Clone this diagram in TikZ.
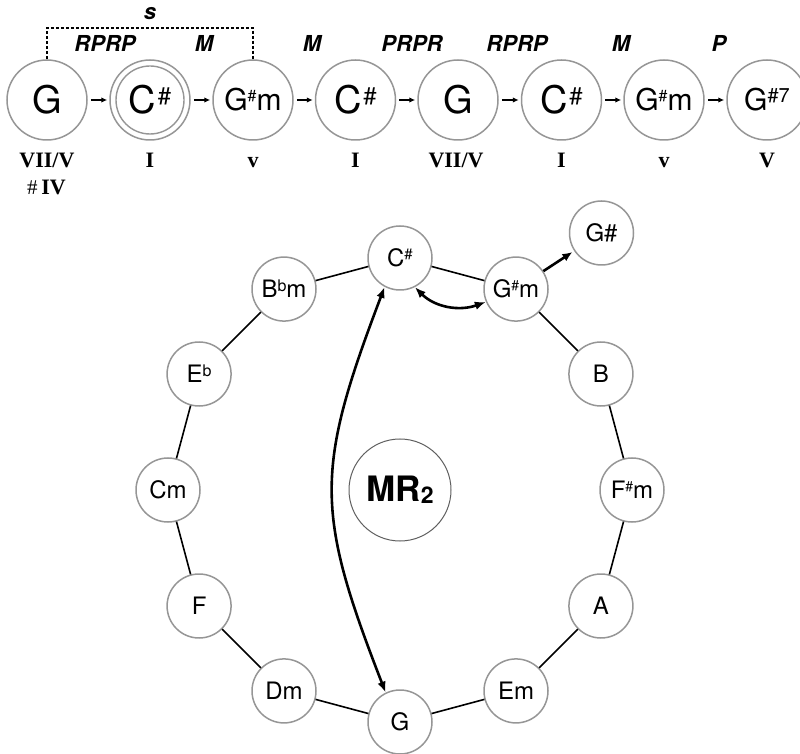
\documentclass[tikz,border=0pt]{standalone}
\usepackage{fontspec}
\setmainfont{TeX Gyre Heros}
\newfontfamily\romfont{Liberation Serif}
\usetikzlibrary{arrows.meta}
\definecolor{cgray}{RGB}{150,150,150}
\definecolor{mgray}{RGB}{95,95,95}
\newcommand\chsup[3]{\smash{\raisebox{#2}{\fontsize{#1}{#1}\selectfont #3}}}
\begin{document}
\begin{tikzpicture}[x=1pt,y=1pt,
  chord/.style={circle,draw=cgray,line width=1.5pt,minimum size=80pt,inner sep=0pt,font=\fontsize{38}{38}\selectfont},
  chordsm/.style={chord,font=\fontsize{30}{30}\selectfont},
  rnode/.style={circle,draw=cgray,line width=1.5pt,minimum size=64pt,inner sep=0pt,fill=white,font=\fontsize{24}{24}\selectfont},
  trans/.style={anchor=base,font=\fontsize{22}{22}\selectfont\bfseries\itshape},
  rom/.style={anchor=base,font=\romfont\fontsize{22}{22}\selectfont\bfseries},
  seq/.style={-{Latex[length=6pt,width=5.5pt]},line width=1.5pt,shorten <=3pt,shorten >=2pt},
  dashline/.style={line width=1.3pt,dash pattern=on 3pt off 2pt},
  link/.style={line width=1.6pt},
  bigarrow/.style={{Latex[length=11pt,width=8.5pt]}-{Latex[length=11pt,width=8.5pt]},line width=2.6pt},
  medarrow/.style={-{Latex[length=10pt,width=8.5pt]},line width=2.6pt,shorten >=2pt}
]
\useasboundingbox (0,0) rectangle (800,753);

% ---- top sequence ----
\node[chord]   (t1) at (47,653)  {G};
\node[chord]   (t2) at (150,653) {C\kern1.5pt\chsup{24}{9pt}{\#}};
\node[chordsm] (t3) at (253,653) {G\chsup{16}{9pt}{\#}m};
\node[chord]   (t4) at (355.5,653) {C\kern1.5pt\chsup{24}{9pt}{\#}};
\node[chord]   (t5) at (458,653) {G};
\node[chord]   (t6) at (561.5,653) {C\kern1.5pt\chsup{24}{9pt}{\#}};
\node[chordsm] (t7) at (664,653) {G\chsup{16}{9pt}{\#}m};
\node[chordsm] (t8) at (767,653) {G\chsup{20}{8pt}{\#7}};
\draw[cgray,line width=1.4pt] (t2.center) circle[radius=34];

\draw[seq] (t1) -- (t2);
\draw[seq] (t2) -- (t3);
\draw[seq] (t3) -- (t4);
\draw[seq] (t4) -- (t5);
\draw[seq] (t5) -- (t6);
\draw[seq] (t6) -- (t7);
\draw[seq] (t7) -- (t8);

\node[trans] (l1) at (105,701) {RPRP};
\node[trans] (l2) at (204,701) {M};
\node[trans] (l3) at (312,701) {M};
\node[trans] (l4) at (412,701) {PRPR};
\node[trans] (l5) at (517,701) {RPRP};
\node[trans] (l6) at (621,701) {M};
\node[trans] (l7) at (719,701) {P};

\coordinate (dl) at (47,725);
\coordinate (dr) at (253,725);
\draw[dashline] (t1.north) -- (dl) -- (dr) -- (t3.north);
\node[trans] (s) at (150,733) {s};

\node[rom] (r1) at (47,585)  {VII/V};
\node[rom] (r1b) at (46.5,558) {{\mdseries\fontsize{21}{21}\selectfont\#}\,IV};
\node[rom] (r2) at (150,585) {I};
\node[rom] (r3) at (253,585) {v};
\node[rom] (r4) at (355.5,585) {I};
\node[rom] (r5) at (456,585) {VII/V};
\node[rom] (r6) at (561.5,585) {I};
\node[rom] (r7) at (664,585) {v};
\node[rom] (r8) at (767,585) {V};

% ---- ring ----
\begin{scope}[shift={(400,263)}]
\node[rnode] (cs)  at (90:232)   {C\chsup{15}{7pt}{\#}};
\node[rnode] (gsm) at (60:232)   {G\chsup{14}{7pt}{\#}m};
\node[rnode] (b)   at (30:232)   {B};
\node[rnode] (fsm) at (0:232)    {F\chsup{14}{7pt}{\#}m};
\node[rnode] (a)   at (-30:232)  {A};
\node[rnode] (em)  at (-60:232)  {Em};
\node[rnode] (g)   at (-90:232)  {G};
\node[rnode] (dm)  at (-120:232) {Dm};
\node[rnode] (f)   at (-150:232) {F};
\node[rnode] (cm)  at (180:232)  {Cm};
\node[rnode] (eb)  at (150:232)  {E\chsup{16}{6.5pt}{b}};
\node[rnode] (bbm) at (120:232)  {B\chsup{16}{6.5pt}{b}m};
\node[circle,draw=mgray,line width=1pt,minimum size=102pt,inner sep=0pt,
      font=\fontsize{35}{35}\selectfont\bfseries] (mr) at (0,0)
      {MR\raisebox{-2pt}{\fontsize{23}{23}\selectfont 2}};
\end{scope}
\node[rnode] (gs) at (601.5,520) {G\#};

\draw[link] (cs) -- (gsm) -- (b) -- (fsm) -- (a) -- (em) -- (g) -- (dm) -- (f) -- (cm) -- (eb) -- (bbm) -- (cs);

\draw[bigarrow] (cs.242) .. controls (315,283) and (315,242) .. (g.116);
\draw[bigarrow] (cs.297) to[out=-45,in=200] (gsm.203);
\draw[medarrow] (gsm) -- (gs);
\end{tikzpicture}
\end{document}
